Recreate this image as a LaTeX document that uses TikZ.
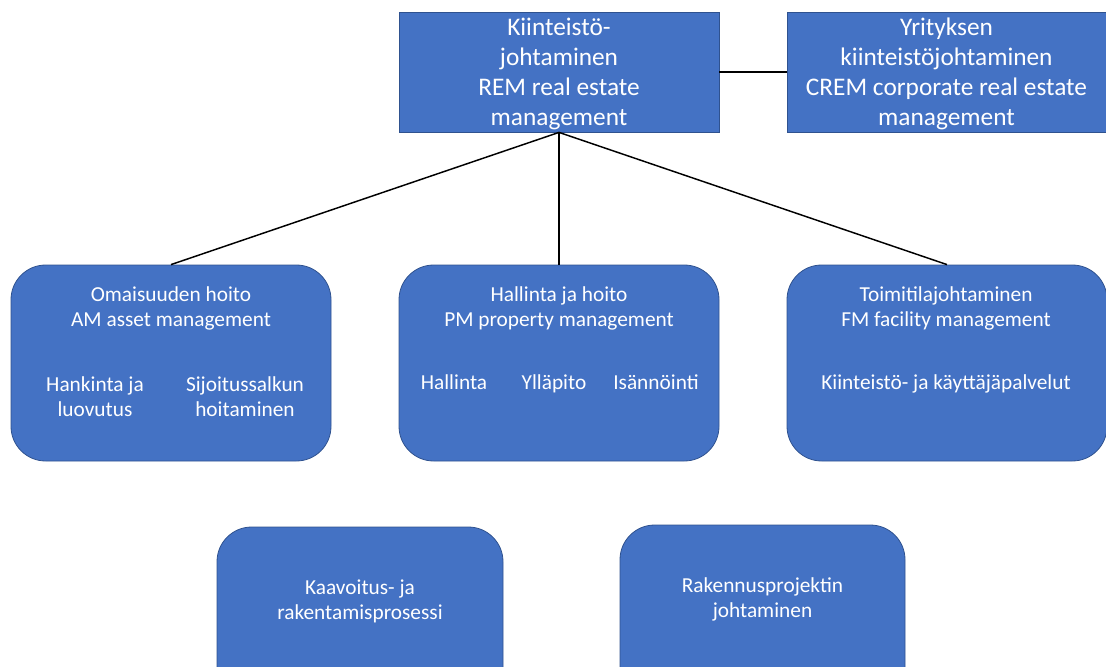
\documentclass[tikz,border=0pt]{standalone}
\usepackage{fontspec}
\setmainfont{Carlito}
\definecolor{boxfill}{HTML}{4472C4}
\definecolor{boxline}{HTML}{2F528F}
\begin{document}
\begin{tikzpicture}[x=0.75pt,y=-0.75pt,
  box/.style={draw=boxline, fill=boxfill, line width=0.6pt, rectangle, inner sep=0pt},
  headbox/.style={box, minimum width=240pt, minimum height=90pt, text=white,
    align=center, font=\fontsize{19}{22.5}\selectfont},
  roundbox/.style={box, rounded corners=26pt},
  boxtext/.style={text=white, align=center, inner sep=0pt, font=\fontsize{16}{18.75}\selectfont},
  itemtext/.style={boxtext, anchor=base},
  link/.style={draw=black, line width=1.1pt}]
\useasboundingbox (0,0) rectangle (1106,667);
\clip (0,0) rectangle (1106,667);

% top level
\node[box, minimum width=240pt, minimum height=90pt] (rem) at (559,72) {};
\node[box, minimum width=239.25pt, minimum height=90pt] (crem) at (946.5,72) {};
\node[headbox, draw=none, fill=none] (remt) at (559,74) {Kiinteistö-\\johtaminen\\REM real estate\\management};
\node[headbox, draw=none, fill=none] (cremt) at (946.5,74) {Yrityksen\\kiinteistöjohtaminen\\CREM corporate real estate\\management};

% second level
\node[roundbox, minimum width=240pt, minimum height=147pt] (am) at (171,363) {};
\node[roundbox, minimum width=240pt, minimum height=147pt] (pm) at (559,363) {};
\node[roundbox, minimum width=240pt, minimum height=147pt] (fm) at (947,363) {};

\node[boxtext] (amt) at (171,308.5) {Omaisuuden hoito\\AM asset management};
\node[boxtext] (am1) at (95,397) {Hankinta ja\\luovutus};
\node[boxtext] (am2) at (245,397) {Sijoitussalkun\\hoitaminen};

\node[boxtext] (pmt) at (559,308.5) {Hallinta ja hoito\\PM property management};
\node[itemtext] (pm1) at (454,389) {Hallinta};
\node[itemtext] (pm2) at (554,389) {Ylläpito};
\node[itemtext] (pm3) at (656,389) {Isännöinti};

\node[boxtext] (fmt) at (946,308.5) {Toimitilajohtaminen\\FM facility management};
\node[itemtext] (fm1) at (946,389) {Kiinteistö- ja käyttäjäpalvelut};

% bottom boxes
\node[roundbox, minimum width=214.5pt, minimum height=150pt] (kaa) at (360,627) {};
\node[roundbox, minimum width=213.75pt, minimum height=150pt] (rak) at (762.5,625) {};
\node[boxtext] (kaat) at (360,601.5) {Kaavoitus- ja\\rakentamisprosessi};
\node[boxtext] (rakt) at (762.5,599) {Rakennusprojektin\\johtaminen};

% connectors
\draw[link] (rem.east) -- (crem.west);
\draw[link] (rem.south) -- (am.north);
\draw[link] (rem.south) -- (pm.north);
\draw[link] (rem.south) -- (fm.north);
\end{tikzpicture}
\end{document}
